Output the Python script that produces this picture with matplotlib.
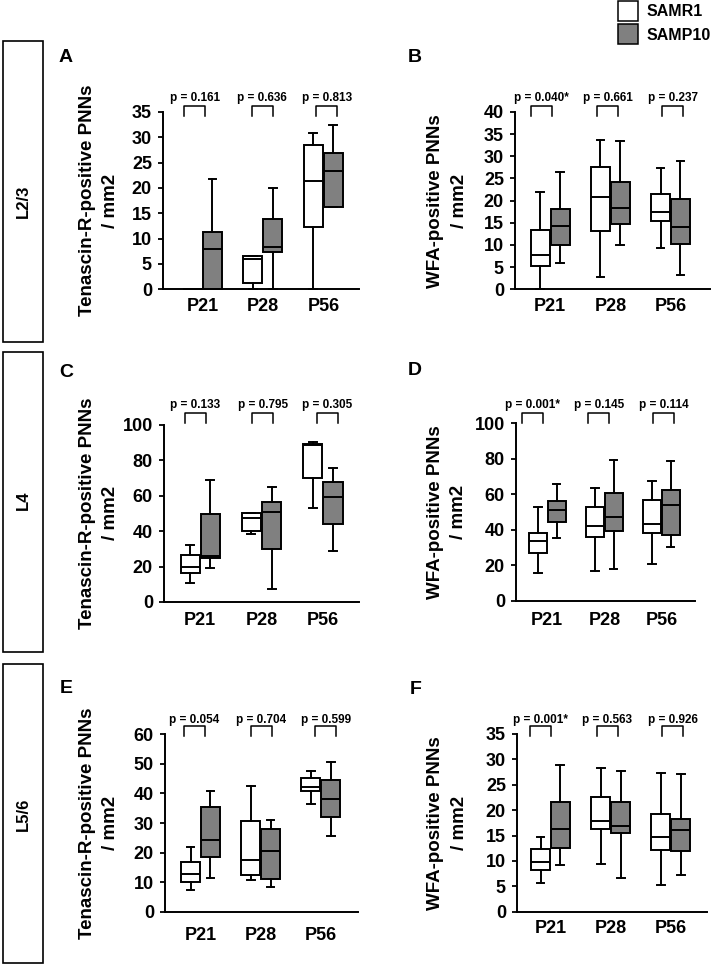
import matplotlib
matplotlib.use('Agg')
import matplotlib.pyplot as plt
from matplotlib.lines import Line2D
from matplotlib.patches import Rectangle

plt.rcParams['font.family'] = ['Liberation Sans', 'DejaVu Sans']
plt.rcParams['font.weight'] = 'bold'
plt.rcParams['axes.labelweight'] = 'bold'

W, H = 712, 965
GRAY = '#808080'

ages = ['P21', 'P28', 'P56']
strains = ['SAMR1', 'SAMP10']
row_names = ['L2/3', 'L4', 'L5/6']

# box summaries per age: (whisker low, Q1, median, Q3, whisker high)
a_samr1 = [(0, 0, 0, 0, 0), (0, 1.3, 6.0, 6.5, 6.5), (0, 12.2, 21.3, 28.4, 30.9)]
a_samp10 = [(0, 0, 8.0, 11.4, 21.7), (0, 7.4, 8.4, 13.9, 20.0), (16.3, 16.3, 23.4, 26.9, 32.4)]
a_pvals = ['p = 0.161', 'p = 0.636', 'p = 0.813']

b_samr1 = [(0, 5.3, 7.8, 13.4, 22.0), (2.7, 13.1, 20.8, 27.7, 33.7), (9.4, 15.3, 17.5, 21.4, 27.4)]
b_samp10 = [(5.9, 10.1, 14.3, 18.1, 26.5), (9.9, 14.8, 18.4, 24.3, 33.5), (3.3, 10.3, 14.1, 20.3, 29.0)]
b_pvals = ['p = 0.040*', 'p = 0.661', 'p = 0.237']

c_samr1 = [(10.5, 16.2, 19.5, 26.7, 32.0), (38.3, 40.2, 47.6, 50.4, 50.4), (53.0, 70.1, 88.5, 89.1, 90.2)]
c_samp10 = [(19.4, 24.6, 25.9, 49.6, 68.6), (7.3, 29.7, 50.6, 56.4, 64.7), (28.8, 43.8, 59.0, 67.5, 75.6)]
c_pvals = ['p = 0.133', 'p = 0.795', 'p = 0.305']

d_samr1 = [(15.8, 26.7, 33.6, 38.2, 52.8), (16.5, 35.9, 42.1, 52.8, 63.7), (20.5, 38.3, 43.4, 56.6, 67.3)]
d_samp10 = [(35.2, 44.2, 50.9, 56.0, 65.8), (17.9, 39.5, 47.2, 60.9, 79.3), (30.3, 37.2, 53.9, 62.4, 78.8)]
d_pvals = ['p = 0.001*', 'p = 0.145', 'p = 0.114']

e_samr1 = [(7.2, 9.9, 12.7, 16.8, 22.0), (10.8, 12.4, 17.4, 30.8, 42.6), (36.5, 40.7, 42.3, 45.2, 47.6)]
e_samp10 = [(11.3, 18.6, 24.4, 35.4, 40.8), (8.3, 11.2, 20.5, 28.0, 31.0), (25.5, 31.9, 38.1, 44.4, 50.7)]
e_pvals = ['p = 0.054', 'p = 0.704', 'p = 0.599']

f_samr1 = [(5.6, 8.3, 9.8, 12.3, 14.8), (9.3, 16.3, 17.9, 22.5, 28.4), (5.3, 12.1, 14.7, 19.2, 27.3)]
f_samp10 = [(9.1, 12.6, 16.2, 21.6, 28.8), (6.7, 15.5, 16.9, 21.7, 27.7), (7.3, 11.9, 16.1, 18.3, 27.1)]
f_pvals = ['p = 0.001*', 'p = 0.563', 'p = 0.926']

tn_label = 'Tenascin-R-positive PNNs\n/ mm2'
wfa_label = 'WFA-positive PNNs\n/ mm2'

# layout in pixels (left, top, right, bottom), x limits, bracket lefts, letter pos
panels = [
    dict(letter='A', r1=a_samr1, p10=a_samp10, pv=a_pvals, ylabel=tn_label, ymax=35, ystep=5,
         box=(163, 112, 359, 289.3), xlim=(0.346, 3.59), br=[184.3, 251.7, 316.3],
         lpos=(58.3, 61.7), yl_off=-44, xpad=9, row=0),
    dict(letter='B', r1=b_samr1, p10=b_samp10, pv=b_pvals, ylabel=wfa_label, ymax=40, ystep=5,
         box=(515, 112, 710, 289.3), xlim=(0.413, 3.657), br=[530.7, 597.3, 662],
         lpos=(408, 61.7), yl_off=-47, xpad=9, row=0),
    dict(letter='C', r1=c_samr1, p10=c_samp10, pv=c_pvals, ylabel=tn_label, ymax=100, ystep=20,
         box=(164, 424.7, 359, 602), xlim=(0.408, 3.59), br=[184.7, 252.3, 316.7],
         lpos=(59.3, 377.3), yl_off=-45, xpad=9.7, row=1),
    dict(letter='D', r1=d_samr1, p10=d_samp10, pv=d_pvals, ylabel=wfa_label, ymax=100, ystep=20,
         box=(516, 423.3, 695, 600.7), xlim=(0.451, 3.59), br=[521.7, 588.3, 653.3],
         lpos=(407.7, 375), yl_off=-49, xpad=11, row=1),
    dict(letter='E', r1=e_samr1, p10=e_samp10, pv=e_pvals, ylabel=tn_label, ymax=60, ystep=10,
         box=(165, 734.3, 357.5, 911.7), xlim=(0.41, 3.61), br=[183.7, 250.7, 315.3],
         lpos=(59.3, 692.7), yl_off=-46, xpad=15, row=2),
    dict(letter='F', r1=f_samr1, p10=f_samp10, pv=f_pvals, ylabel=wfa_label, ymax=35, ystep=5,
         box=(517, 734, 707, 911.7), xlim=(0.444, 3.6), br=[530, 597, 662],
         lpos=(409.3, 694), yl_off=-49, xpad=8.3, row=2),
]

# p-value rows: (text baseline, bracket top, bracket leg bottom)
p_rows = [(101, 106, 115.7), (408.3, 412.7, 422.7), (722.5, 726, 736)]
row_boxes = [(3, 41, 43, 342), (3, 352, 43, 652), (3, 664, 43, 963)]
row_label_y = [201, 500, 814]


def fx(x):
    return x / W


def fy(y):
    return 1 - y / H


fig = plt.figure(figsize=(W / 100, H / 100), dpi=100)

for p in panels:
    l, t, r, b = p['box']
    ax = fig.add_axes([fx(l), fy(b), (r - l) / W, (b - t) / H])
    for summ, color, off in [(p['r1'], 'white', -0.165), (p['p10'], GRAY, 0.165)]:
        stats = [dict(whislo=s[0], q1=s[1], med=s[2], q3=s[3], whishi=s[4]) for s in summ]
        pos = [i + 1 + off for i in range(len(ages))]
        res = ax.bxp(stats, positions=pos, widths=0.315, patch_artist=True,
                     showfliers=False, capwidths=0.13, manage_ticks=False,
                     boxprops=dict(facecolor=color, edgecolor='black', linewidth=1.4),
                     whiskerprops=dict(color='black', linewidth=1.4),
                     capprops=dict(color='black', linewidth=1.4),
                     medianprops=dict(color='black', linewidth=1.4))
        for arts in res.values():
            for a in arts:
                a.set_clip_on(False)

    ax.set_xlim(*p['xlim'])
    ax.set_ylim(0, p['ymax'])
    ax.set_yticks(range(0, p['ymax'] + 1, p['ystep']))
    ax.set_xticks([1, 2, 3])
    ax.set_xticklabels(ages)
    for s in ['top', 'right']:
        ax.spines[s].set_visible(False)
    for s in ['left', 'bottom']:
        ax.spines[s].set_linewidth(1.4)
    ax.tick_params(axis='y', direction='out', length=3.5, width=1.3, pad=4.5, labelsize=13)
    ax.tick_params(axis='x', length=0, pad=p['xpad'] * 0.72, labelsize=13)
    ax.set_ylabel(p['ylabel'], fontsize=13.5, fontweight='bold', linespacing=1.5)
    ax.yaxis.set_label_coords(p['yl_off'] / (r - l), 0.5)

    # panel letter
    fig.text(fx(p['lpos'][0]), fy(p['lpos'][1]), p['letter'], fontsize=14,
             ha='left', va='baseline')

    # significance brackets
    tb, top, leg = p_rows[p['row']]
    for x0, txt in zip(p['br'], p['pv']):
        x1 = x0 + 21
        fig.add_artist(Line2D([fx(x0), fx(x0), fx(x1), fx(x1)],
                              [fy(leg), fy(top), fy(top), fy(leg)],
                              color='black', linewidth=1.1))
        fig.text(fx((x0 + x1) / 2), fy(tb), txt, fontsize=8.5, ha='center', va='baseline')

# layer boxes on the left
for (l, t, r, b), name, ly in zip(row_boxes, row_names, row_label_y):
    fig.add_artist(Rectangle((fx(l), fy(b)), (r - l) / W, (b - t) / H, fill=False,
                             edgecolor='black', linewidth=1.2))
    fig.text(fx((l + r) / 2), fy(ly), name, rotation=90, fontsize=12,
             ha='center', va='center')

# legend
for i, (name, color) in enumerate(zip(strains, ['white', GRAY])):
    top = 1 + i * 23
    fig.add_artist(Rectangle((fx(618.3), fy(top + 20)), 20 / W, 20 / H,
                             facecolor=color, edgecolor='black', linewidth=1.1))
    fig.text(fx(646.7), fy(top + 11), name, fontsize=11.5, ha='left', va='center')

fig.savefig('out.png', dpi=100)
